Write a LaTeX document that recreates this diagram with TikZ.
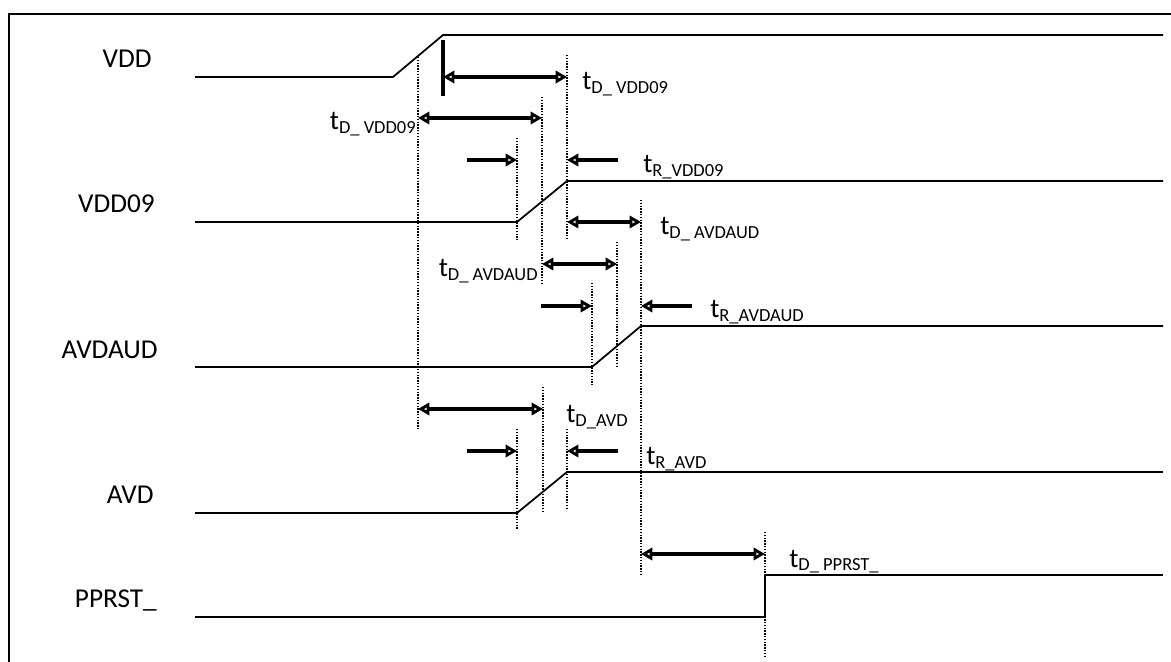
\documentclass[tikz,border=0pt]{standalone}
\usepackage{fontspec}
\setmainfont{Carlito}
\usetikzlibrary{arrows.meta,positioning}

\newcommand{\tlab}[1]{t\raisebox{-0.3ex}{\fontsize{10.5}{12}\selectfont #1}}

\begin{document}
\begin{tikzpicture}[x=0.02cm,y=-0.02cm,
  signal/.style={line width=1pt},
  guide/.style={line width=1.5pt,dash pattern=on 0.8pt off 0.8pt},
  marker/.style={line width=1.9pt},
  span/.style={line width=2.2pt,{Triangle[open,length=6.5pt,width=7pt]}-{Triangle[open,length=6.5pt,width=7pt]}},
  push/.style={line width=2.2pt,-{Triangle[open,length=6.5pt,width=7pt]}},
  signame/.style={font=\fontsize{15.5}{18}\selectfont,anchor=base east,inner sep=0pt},
  timelab/.style={font=\fontsize{15.5}{18}\selectfont,anchor=base west,inner sep=0pt}
]
\useasboundingbox (0,0) rectangle (1171,662);
\draw[line width=1.2pt] (9,662) -- (9,14) -- (1171,14);

% signal names
\node[signame] (nvdd)  at (152,68)  {VDD};
\node[signame] (nv09)  at (155,213) {VDD09};
\node[signame] (naud)  at (158,359) {AVDAUD};
\node[signame] (navd)  at (154,503) {AVD};
\node[signame] (nrst)  at (157,607) {PPRST\_};

% waveforms
\coordinate (vdd0) at (195,77);  \coordinate (vddA) at (393,77);
\coordinate (vddB) at (443,35);  \coordinate (vdd1) at (1163,35);
\coordinate (v090) at (195,222); \coordinate (v09A) at (517,222);
\coordinate (v09B) at (567,181); \coordinate (v091) at (1163,181);
\coordinate (aud0) at (195,367); \coordinate (audA) at (592,367);
\coordinate (audB) at (641,326); \coordinate (aud1) at (1163,326);
\coordinate (avd0) at (195,513); \coordinate (avdA) at (517,513);
\coordinate (avdB) at (567,472); \coordinate (avd1) at (1163,472);
\coordinate (rst0) at (195,617); \coordinate (rstA) at (765,617);
\coordinate (rstB) at (765,575); \coordinate (rst1) at (1163,575);

\draw[signal] (vdd0) -- (vddA) -- (vddB) -- (vdd1);
\draw[signal] (v090) -- (v09A) -- (v09B) -- (v091);
\draw[signal] (aud0) -- (audA) -- (audB) -- (aud1);
\draw[signal] (avd0) -- (avdA) -- (avdB) -- (avd1);
\draw[signal] (rst0) -- (rstA) -- (rstB) -- (rst1);

% guide lines
\draw[marker] (443,40) -- (443,96);
\draw[guide] (418,57) -- (418,430);
\draw[guide] (567,55) -- (567,240);
\draw[guide] (542,97) -- (542,283);
\draw[guide] (517,138) -- (517,240);
\draw[guide] (641,200) -- (641,575);
\draw[guide] (617,242) -- (617,368);
\draw[guide] (592,283) -- (592,385);
\draw[guide] (543,387) -- (543,513);
\draw[guide] (517,429) -- (517,530);
\draw[guide] (567,429) -- (567,510);
\draw[guide] (765,532) -- (765,658);

% timing arrows
\draw[span] (443,77) -- (567,77);
\draw[span] (418,118) -- (542,118);
\draw[push] (467,160) -- (517,160);
\draw[push] (618,160) -- (567,160);
\draw[span] (567,222) -- (641,222);
\draw[span] (542,264) -- (617,264);
\draw[push] (541,306) -- (592,306);
\draw[push] (692,306) -- (641,306);
\draw[span] (418,409) -- (543,409);
\draw[push] (467,451) -- (517,451);
\draw[push] (618,451) -- (567,451);
\draw[span] (641,554) -- (765,554);

% timing labels
\node[timelab] (tdv09a) at (582,90)  {\tlab{D\_ VDD09}};
\node[timelab,anchor=base east] (tdv09b) at (416,130) {\tlab{D\_ VDD09}};
\node[timelab] (trv09)  at (643,173) {\tlab{R\_VDD09}};
\node[timelab] (tdauda) at (660,235) {\tlab{D\_ AVDAUD}};
\node[timelab,anchor=base east] (tdaudb) at (538,277) {\tlab{D\_ AVDAUD}};
\node[timelab] (traud)  at (710,318) {\tlab{R\_AVDAUD}};
\node[timelab] (tdavd)  at (566,423) {\tlab{D\_AVD}};
\node[timelab] (travd)  at (646,465) {\tlab{R\_AVD}};
\node[timelab] (tdrst)  at (789,567) {\tlab{D\_ PPRST\_}};
\end{tikzpicture}
\end{document}
